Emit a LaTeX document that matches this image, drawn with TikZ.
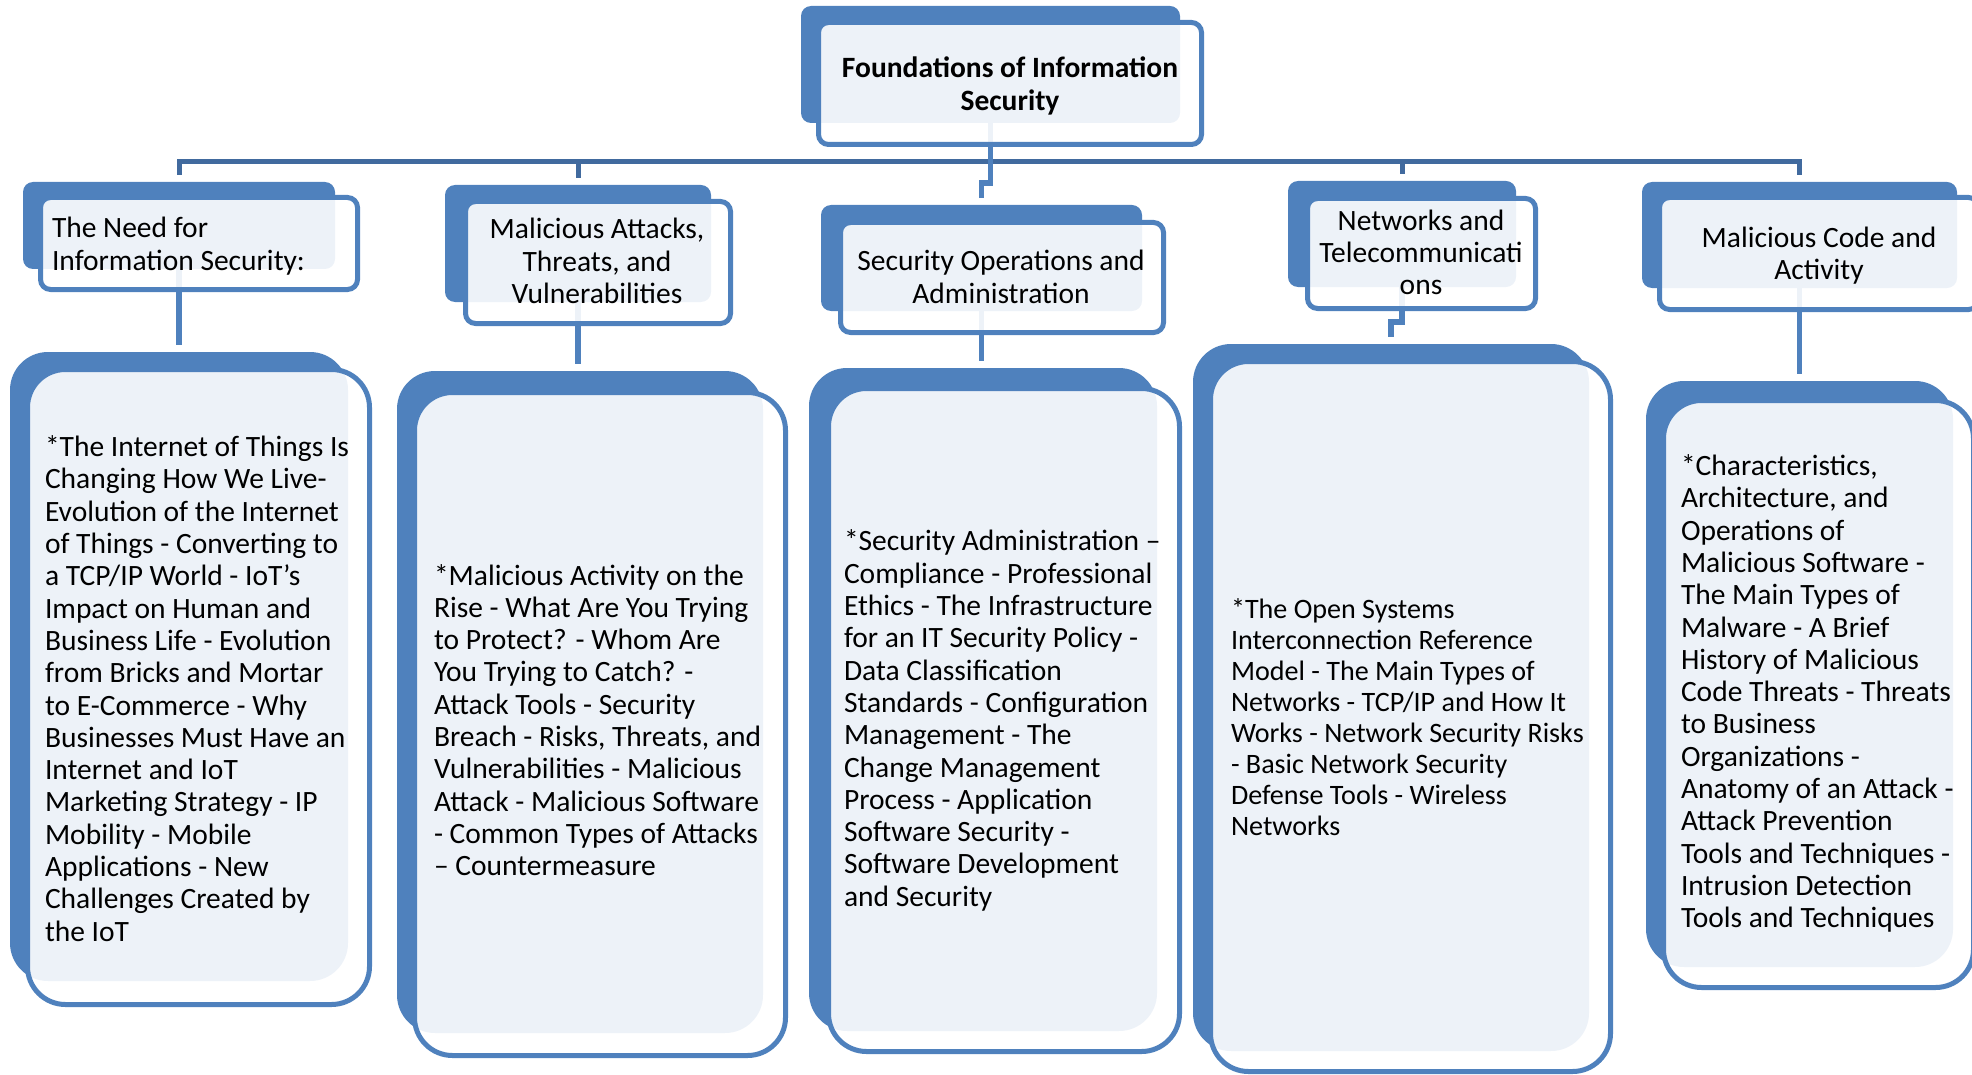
\documentclass[tikz,border=0pt]{standalone}
\usepackage{fontspec}
\setmainfont{Carlito}
\usetikzlibrary{calc}
\definecolor{accent}{RGB}{79,129,189}
\definecolor{accentdark}{RGB}{65,106,158}
\pgfdeclarelayer{links}
\pgfsetlayers{links,main}

\begin{document}
\begin{tikzpicture}[x=1pt,y=-1pt,
  back/.style={fill=accent, draw=none, inner sep=0pt, outer sep=0pt},
  front/.style={draw=accent, line width=5pt, fill=white, fill opacity=0.9, inner sep=0pt, outer sep=0pt},
  hdr/.style={rounded corners=10pt},
  body/.style={rounded corners=38pt},
  label/.style={inner sep=0pt, outer sep=0pt, text=black, font=\fontsize{29.5}{32.3}\selectfont},
  boldlabel/.style={label, font=\bfseries\fontsize{29.5}{32.3}\selectfont},
  conn/.style={draw=accent, line width=5.5pt, shorten >=7pt},
  bus/.style={draw=accentdark, line width=5pt},
]
\useasboundingbox (0,0) rectangle (1972,1075);

% ---------- root ----------
\node[back,hdr,minimum width=379pt,minimum height=117pt] (root-b) at (990.5,64.5) {};
\node[front,hdr,minimum width=383pt,minimum height=122pt] (root-f) at (1010,83.5) {};
\node[boldlabel,align=center] (root-t) at (1010,86) {Foundations of Information\\Security};

% ---------- second level headings ----------
\node[back,hdr,minimum width=312pt,minimum height=87pt] (h1-b) at (179,225.5) {};
\node[front,hdr,minimum width=317pt,minimum height=92pt] (h1-f) at (199,243.5) {};
\node[label,align=left,anchor=west] (h1-t) at (52,246) {The Need for\\Information Security:};

\node[back,hdr,minimum width=266pt,minimum height=117pt] (h2-b) at (578,243.5) {};
\node[front,hdr,minimum width=265pt,minimum height=122pt] (h2-f) at (598,262.5) {};
\node[label,align=center] (h2-t) at (597,261) {Malicious Attacks,\\Threats, and\\Vulnerabilities};

\node[back,hdr,minimum width=321pt,minimum height=106pt] (h3-b) at (981.5,258) {};
\node[front,hdr,minimum width=323pt,minimum height=110pt] (h3-f) at (1002,277.5) {};
\node[label,align=center] (h3-t) at (1001,277) {Security Operations and\\Administration};

\node[back,hdr,minimum width=228pt,minimum height=106pt] (h4-b) at (1402,234) {};
\node[front,hdr,minimum width=228pt,minimum height=110pt] (h4-f) at (1421.5,253.5) {};
\node[label,align=center] (h4-t) at (1421,252.5) {Networks and\\Telecommunicati\\ons};

\node[back,hdr,minimum width=315pt,minimum height=106pt] (h5-b) at (1799.5,235) {};
\node[front,hdr,minimum width=319pt,minimum height=112pt] (h5-f) at (1819,253.5) {};
\node[label,align=center] (h5-t) at (1819,255.5) {Malicious Code and\\Activity};

% ---------- topic lists ----------
\node[back,body,minimum width=338pt,minimum height=629pt] (c1-b) at (179,666.5) {};
\node[front,body,minimum width=342pt,minimum height=635pt] (c1-f) at (198.5,687) {};
\node[label,align=left,anchor=west] (c1-t) at (45,688.5) {*The Internet of Things Is\\Changing How We Live-\\Evolution of the Internet\\of Things - Converting to\\a TCP/IP World - IoT’s\\Impact on Human and\\Business Life - Evolution\\from Bricks and Mortar\\to E-Commerce - Why\\Businesses Must Have an\\Internet and IoT\\Marketing Strategy - IP\\Mobility - Mobile\\Applications - New\\Challenges Created by\\the IoT};

\node[back,body,minimum width=366pt,minimum height=662pt] (c2-b) at (580,702) {};
\node[front,body,minimum width=371pt,minimum height=663pt] (c2-f) at (600,724) {};
\node[label,align=left,anchor=west] (c2-t) at (434,720) {*Malicious Activity on the\\Rise - What Are You Trying\\to Protect? - Whom Are\\You Trying to Catch? -\\Attack Tools - Security\\Breach - Risks, Threats, and\\Vulnerabilities - Malicious\\Attack - Malicious Software\\- Common Types of Attacks\\– Countermeasure};

\node[back,body,minimum width=348pt,minimum height=663pt] (c3-b) at (983,699.5) {};
\node[front,body,minimum width=351pt,minimum height=663pt] (c3-f) at (1004,720) {};
\node[label,align=left,anchor=west] (c3-t) at (844,720.5) {*Security Administration –\\Compliance - Professional\\Ethics - The Infrastructure\\for an IT Security Policy -\\Data Classification\\Standards - Configuration\\Management - The\\Change Management\\Process - Application\\Software Security -\\Software Development\\and Security};

\node[back,body,minimum width=396pt,minimum height=707pt] (c4-b) at (1391,697.5) {};
\node[front,body,minimum width=400pt,minimum height=710pt] (c4-f) at (1410.5,716.5) {};
\node[label,align=left,anchor=west,font=\fontsize{28.1}{30.9}\selectfont] (c4-t) at (1231,717) {*The Open Systems\\Interconnection Reference\\Model - The Main Types of\\Networks - TCP/IP and How It\\Works - Network Security Risks\\- Basic Network Security\\Defense Tools - Wireless\\Networks};

\node[back,body,minimum width=307pt,minimum height=586pt] (c5-b) at (1799.5,674) {};
\node[front,body,minimum width=310pt,minimum height=587pt] (c5-f) at (1818.5,694) {};
\node[label,align=left,anchor=west] (c5-t) at (1681,693.5) {*Characteristics,\\Architecture, and\\Operations of\\Malicious Software -\\The Main Types of\\Malware - A Brief\\History of Malicious\\Code Threats - Threats\\to Business\\Organizations -\\Anatomy of an Attack -\\Attack Prevention\\Tools and Techniques -\\Intrusion Detection\\Tools and Techniques};

% ---------- connectors, kept beneath the boxes ----------
\coordinate (bar) at (0,162);
\begin{pgfonlayer}{links}
  \draw[bus, shorten <=7pt, shorten >=7pt] (h1-b.north) |- (h5-b.north |- bar) -- (h5-b.north);
  \draw[bus, shorten >=7pt] (h2-b.north |- bar) -- (h2-b.north);
  \draw[bus, shorten >=7pt] (h4-b.north |- bar) -- (h4-b.north);
  \draw[conn] (root-b.south) -- ++(0,60) -| (h3-b.north);
  \draw[conn] (h1-b.south) -- (h1-b.south |- c1-b.north);
  \draw[conn] (h2-b.south) -- (h2-b.south |- c2-b.north);
  \draw[conn] (h3-b.south) -- (h3-b.south |- c3-b.north);
  \draw[conn] (h4-b.south) -- ++(0,35) -| (c4-b.north);
  \draw[conn] (h5-b.south) -- (h5-b.south |- c5-b.north);
\end{pgfonlayer}
\end{tikzpicture}
\end{document}
